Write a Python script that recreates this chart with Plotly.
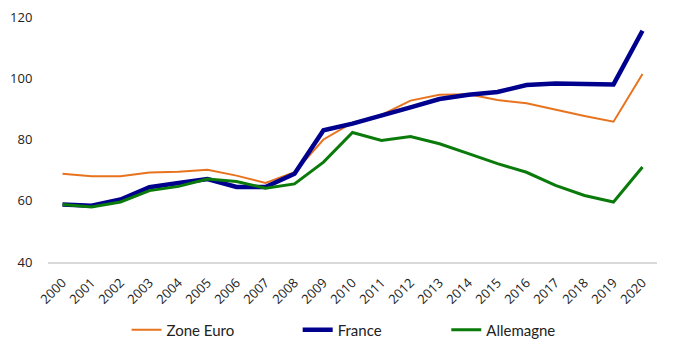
import plotly.graph_objects as go

years = [str(y) for y in range(2000, 2021)]
zone_euro = [68.8, 68.0, 68.0, 69.2, 69.5, 70.1, 68.2, 65.8, 69.3, 80.0, 85.5, 88.0, 92.7, 94.6, 94.8, 92.9, 91.8, 89.7, 87.7, 85.8, 101.4]
france = [58.8, 58.4, 60.4, 64.4, 65.8, 67.1, 64.5, 64.5, 68.8, 83.0, 85.2, 88.0, 90.5, 93.2, 94.6, 95.5, 97.8, 98.3, 98.0, 98.0, 115.5]
allemagne = [58.8, 58.0, 59.6, 63.3, 64.7, 67.1, 66.3, 64.1, 65.5, 72.6, 82.3, 79.7, 81.0, 78.6, 75.4, 72.1, 69.3, 65.0, 61.7, 59.6, 71.0]
y_ticks = [40, 60, 80, 100, 120]

fig = go.Figure()
fig.add_trace(go.Scatter(x=years, y=zone_euro, name="Zone Euro", mode="lines",
                         line=dict(color="#E8731E", width=2), legend="legend"))
fig.add_trace(go.Scatter(x=years, y=france, name="France", mode="lines",
                         line=dict(color="#00008E", width=4.5), legend="legend2"))
fig.add_trace(go.Scatter(x=years, y=allemagne, name="Allemagne", mode="lines",
                         line=dict(color="#0A7A0A", width=3), legend="legend3"))

leg_common = dict(orientation="h", yanchor="middle", y=-0.278, xanchor="left",
                  font=dict(family="Lato", size=15, color="#222"), bgcolor="rgba(0,0,0,0)",
                  itemwidth=30, tracegroupgap=0)
fig.update_layout(
    width=691, height=348,
    margin=dict(l=48, r=34, t=17, b=86, autoexpand=False),
    plot_bgcolor="white", paper_bgcolor="white",
    showlegend=True,
    legend=dict(x=0.129, **leg_common),
    legend2=dict(x=0.41, **leg_common),
    legend3=dict(x=0.654, **leg_common),
    xaxis=dict(type="category", range=[-0.5, 20.5], showgrid=False, showline=True,
               linecolor="#D9D9D9", linewidth=2, automargin=False,
               ticks="outside", ticklen=6, tickcolor="rgba(0,0,0,0)", tickangle=-45,
               tickfont=dict(family="Open Sans", size=13, color="#222"),
               zeroline=False),
    yaxis=dict(range=[40, 120], tickvals=y_ticks, showgrid=False, showline=False, zeroline=False,
               automargin=False, ticks="outside", ticklen=12, tickcolor="rgba(0,0,0,0)",
               tickfont=dict(family="Open Sans", size=13, color="#222")),
)
fig.write_html("out.html")
